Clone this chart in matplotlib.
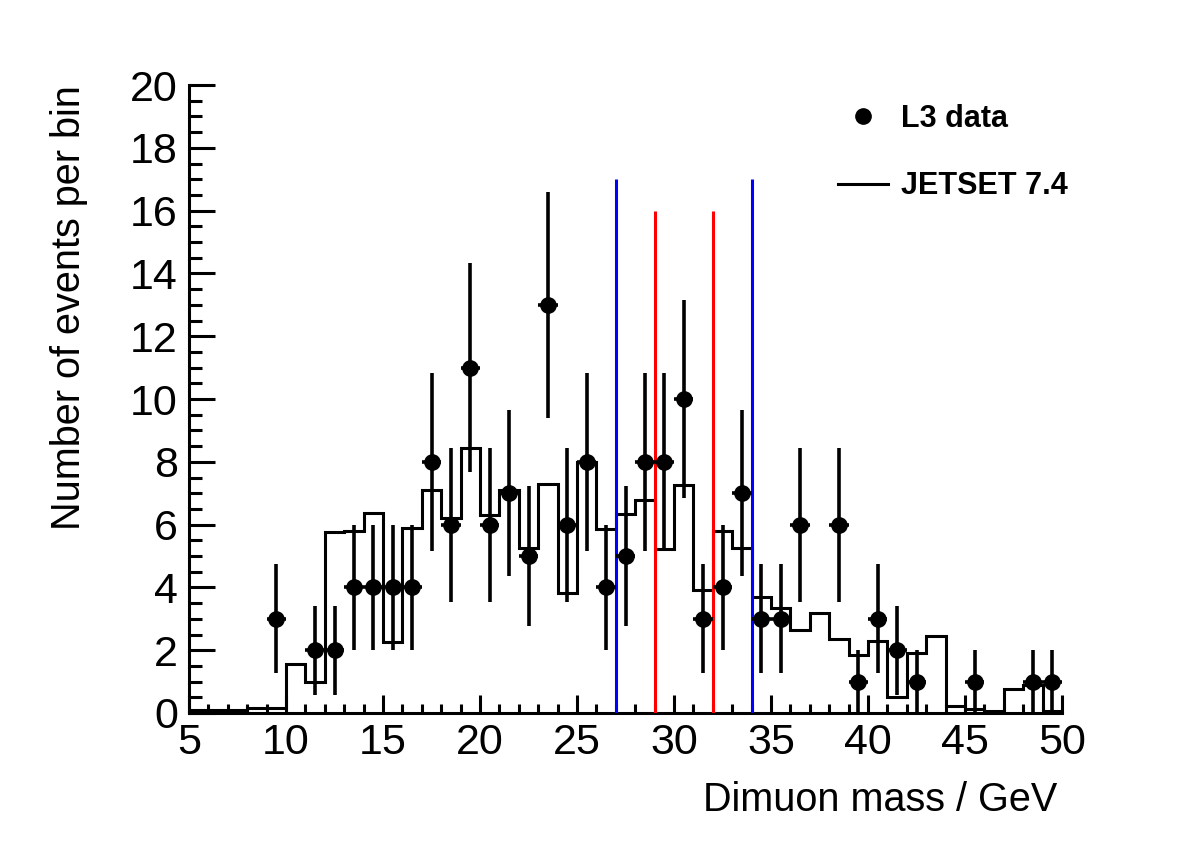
import numpy as np
import matplotlib.pyplot as plt
from matplotlib.lines import Line2D
from matplotlib.ticker import MultipleLocator

plt.rcParams['font.family'] = ['Liberation Sans', 'DejaVu Sans']

# L3 data: bin centres and counts
mass = [9.5, 11.5, 12.5, 13.5, 14.5, 15.5, 16.5, 17.5, 18.5, 19.5, 20.5, 21.5,
        22.5, 23.5, 24.5, 25.5, 26.5, 27.5, 28.5, 29.5, 30.5, 31.5, 32.5, 33.5,
        34.5, 35.5, 36.5, 38.5, 39.5, 40.5, 41.5, 42.5, 45.5, 48.5, 49.5]
counts = [3, 2, 2, 4, 4, 4, 4, 8, 6, 11, 6, 7,
          5, 13, 6, 8, 4, 5, 8, 8, 10, 3, 4, 7,
          3, 3, 6, 6, 1, 3, 2, 1, 1, 1, 1]

# JETSET 7.4 prediction, 1 GeV bins from 5 to 50
edges = np.arange(5, 51, 1)
jetset = [0.08, 0.08, 0.08, 0.15, 0.15, 1.55, 1.0, 5.77, 5.8, 6.38,
          2.25, 5.88, 7.1, 6.2, 8.43, 6.3, 7.1, 5.24, 7.29, 3.81,
          8.0, 5.85, 6.33, 6.78, 5.21, 7.26, 3.92, 5.8, 5.26, 3.7,
          3.35, 2.64, 3.19, 2.37, 1.86, 2.3, 0.5, 1.9, 2.46, 0.23,
          0.14, 0.05, 0.76, 0.89, 0.05]

# mass window lines
blue_x = [27, 34]
blue_top = 17
red_x = [29, 32]
red_top = 16

fig = plt.figure(figsize=(11.82, 8.5), dpi=100)
ax = fig.add_axes([189/1182, 1 - 713/850, 873/1182, 628/850])

ax.stairs(jetset, edges, color='black', lw=2.2, zorder=2)
ax.vlines(blue_x, 0, blue_top, color='#0000ff', lw=2.2, zorder=3)
ax.vlines(red_x, 0, red_top, color='#ff0000', lw=2.2, zorder=3)
ax.errorbar(mass, counts, yerr=np.sqrt(counts), xerr=0.5, fmt='o', color='black',
            ms=11, elinewidth=2.6, capsize=0, zorder=4)

ax.set_xlim(5, 50)
ax.set_ylim(0, 20)
ax.xaxis.set_major_locator(MultipleLocator(5))
ax.xaxis.set_minor_locator(MultipleLocator(1))
ax.yaxis.set_major_locator(MultipleLocator(2))
ax.yaxis.set_minor_locator(MultipleLocator(0.5))

for s in ['top', 'right']:
    ax.spines[s].set_visible(False)
for s in ['left', 'bottom']:
    ax.spines[s].set_linewidth(2.2)

ax.tick_params(axis='y', which='major', direction='in', length=19, width=2.2, labelsize=31, pad=8)
ax.tick_params(axis='y', which='minor', direction='in', length=9.5, width=2.2)
ax.tick_params(axis='x', which='major', direction='in', length=13, width=2.2, labelsize=31, pad=7)
ax.tick_params(axis='x', which='minor', direction='in', length=6.5, width=2.2)

ax.set_xlabel('Dimuon mass / GeV', fontsize=28.5, loc='right')
ax.xaxis.set_label_coords(0.995, -0.108)
ax.set_ylabel('Number of events per bin', fontsize=28.5, loc='top')
ax.yaxis.set_label_coords(-0.116, 1.0)

handles = [Line2D([], [], marker='o', ls='none', color='black', ms=11),
           Line2D([], [], color='black', lw=2.2)]
ax.legend(handles, ['L3 data', 'JETSET 7.4'], loc='upper left',
          bbox_to_anchor=(838/1182, 1 - 104/850), bbox_transform=fig.transFigure,
          frameon=False, prop={'weight': 'bold', 'size': 22},
          handlelength=1.65, handletextpad=0.4, labelspacing=1.22,
          borderpad=0, borderaxespad=0)

fig.savefig('out.png', dpi=100)
